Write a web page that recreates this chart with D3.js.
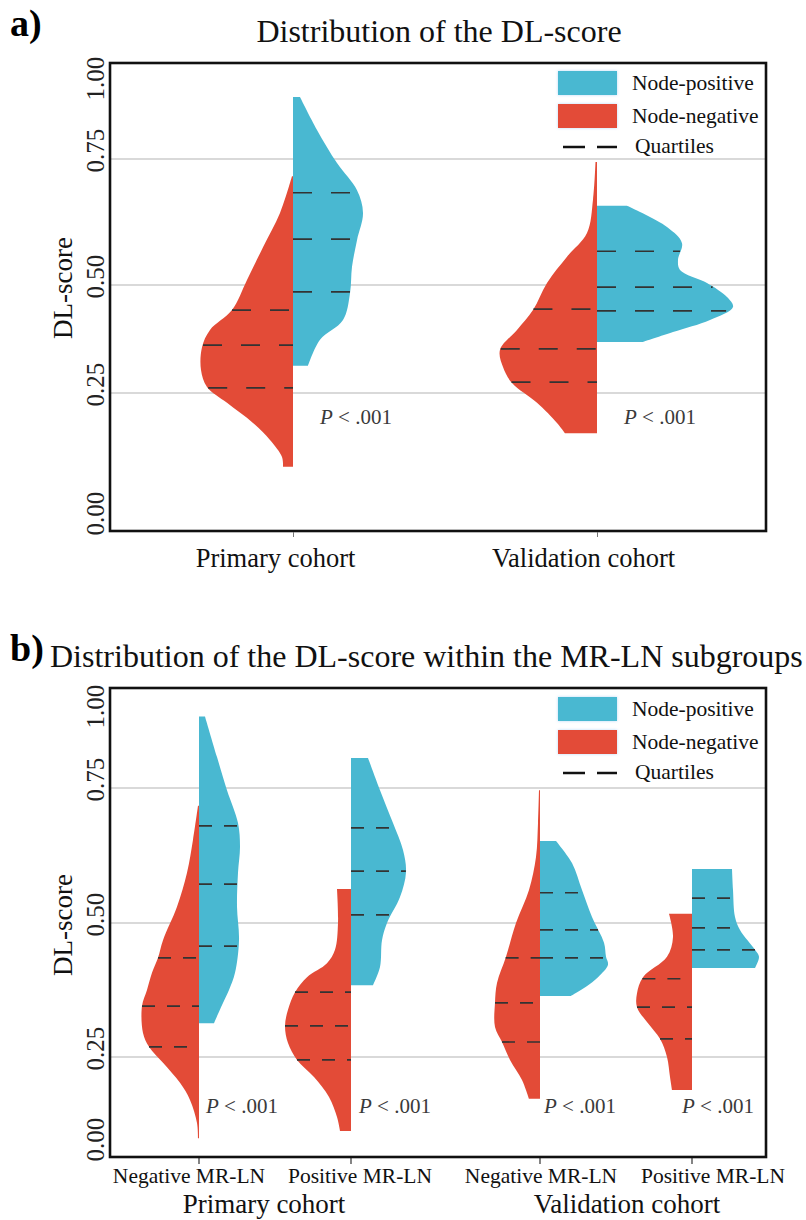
<!DOCTYPE html>
<html>
<head>
<meta charset="utf-8">
<script src="https://cdn.jsdelivr.net/npm/d3@7"></script>
<style>
  html, body { margin: 0; padding: 0; background: #fff; }
  svg { display: block; }
</style>
</head>
<body>
<svg id="chart" width="806" height="1220"></svg>
<script>
// ---- data (value, half-width density) ----
const cohorts = ["Primary cohort", "Validation cohort"];
const subgroups = ["Negative MR-LN", "Positive MR-LN"];
const yTicks = [0, 0.25, 0.5, 0.75, 1];
const gridValues = [0.25, 0.5, 0.75];
const legendKeys = ["Node-positive", "Node-negative", "Quartiles"];
const pLabel = "P < .001";

// panel a
const primaryNegA = [[0.716,0.01],[0.643,0.13],[0.575,0.30],[0.510,0.46],[0.442,0.61],[0.396,0.83],[0.356,0.91],[0.303,0.92],[0.264,0.86],[0.231,0.66],[0.192,0.40],[0.159,0.23],[0.126,0.11],[0.107,0.10]];
const primaryPosA = [[0.965,0.07],[0.851,0.24],[0.742,0.44],[0.688,0.64],[0.643,0.70],[0.589,0.64],[0.536,0.59],[0.481,0.57],[0.419,0.50],[0.373,0.27],[0.313,0.15]];
const validNegA = [[0.744,0.015],[0.669,0.04],[0.603,0.10],[0.556,0.30],[0.504,0.50],[0.442,0.64],[0.396,0.80],[0.350,0.97],[0.310,0.94],[0.273,0.85],[0.231,0.60],[0.192,0.40],[0.172,0.32]];
const validPosA = [[0.657,0.30],[0.615,0.70],[0.583,0.85],[0.550,0.81],[0.530,0.83],[0.504,1.10],[0.472,1.30],[0.449,1.36],[0.419,1.13],[0.391,0.76],[0.368,0.46]];
const quartPrimaryNegA = [0.262, 0.361, 0.442];
const quartPrimaryPosA = [0.484, 0.591, 0.683];
const quartValidNegA = [0.275, 0.352, 0.444];
const quartValidPosA = [0.440, 0.495, 0.567];

// panel b
const primLnNegNeg = [[0.717,0.01],[0.654,0.06],[0.593,0.12],[0.530,0.22],[0.468,0.36],[0.435,0.41],[0.407,0.47],[0.375,0.52],[0.345,0.57],[0.295,0.56],[0.269,0.50],[0.234,0.36],[0.179,0.19],[0.132,0.09],[0.069,0.02],[0.027,0.01]];
const primLnNegPos = [[0.995,0.06],[0.856,0.18],[0.746,0.28],[0.685,0.39],[0.641,0.41],[0.593,0.39],[0.530,0.38],[0.468,0.40],[0.407,0.36],[0.375,0.30],[0.343,0.22],[0.313,0.15]];
const primLnPosNeg = [[0.563,0.14],[0.500,0.13],[0.450,0.16],[0.425,0.24],[0.399,0.44],[0.371,0.56],[0.338,0.63],[0.308,0.66],[0.276,0.63],[0.242,0.54],[0.195,0.37],[0.140,0.22],[0.085,0.14],[0.047,0.11]];
const primLnPosPos = [[0.853,0.17],[0.746,0.29],[0.685,0.42],[0.635,0.52],[0.594,0.55],[0.548,0.49],[0.500,0.36],[0.468,0.31],[0.418,0.29],[0.384,0.22]];
const validLnNegNeg = [[0.746,0.01],[0.685,0.02],[0.622,0.04],[0.561,0.11],[0.500,0.24],[0.437,0.34],[0.388,0.43],[0.351,0.45],[0.306,0.45],[0.278,0.38],[0.242,0.30],[0.187,0.18],[0.135,0.11]];
const validLnNegPos = [[0.652,0.16],[0.611,0.32],[0.561,0.42],[0.511,0.52],[0.463,0.64],[0.437,0.66],[0.422,0.68],[0.399,0.58],[0.381,0.46],[0.364,0.31]];
const validLnPosNeg = [[0.517,0.23],[0.474,0.19],[0.437,0.25],[0.399,0.49],[0.369,0.55],[0.343,0.55],[0.313,0.44],[0.284,0.32],[0.250,0.25],[0.195,0.22],[0.159,0.20]];
const validLnPosPos = [[0.600,0.40],[0.561,0.41],[0.511,0.43],[0.487,0.48],[0.450,0.63],[0.437,0.67],[0.416,0.63]];
const quartB = {
  primLnNegNeg: [0.269, 0.345, 0.435], primLnNegPos: [0.457, 0.572, 0.680],
  primLnPosNeg: [0.242, 0.308, 0.371], primLnPosPos: [0.515, 0.596, 0.676],
  validLnNegNeg: [0.278, 0.351, 0.435], validLnNegPos: [0.435, 0.487, 0.556],
  validLnPosNeg: [0.284, 0.343, 0.396], validLnPosPos: [0.450, 0.491, 0.546]
};

// ---- styling ----
const FONT = '"Liberation Serif", "Times New Roman", serif';
const BLUE = "#49b8d1";
const RED = "#e34b37";
const GRID = "#d9d9d9";

const svg = d3.select("#chart");
const wScale = d3.scaleLinear().domain([0, 1]).range([0, 100]);

const defs = svg.append("defs");
const glow = defs.append("filter").attr("id", "glow").attr("x", "-20%").attr("y", "-30%").attr("width", "140%").attr("height", "160%");
glow.append("feDropShadow").attr("dx", 0).attr("dy", 0).attr("stdDeviation", 1.6)
  .attr("flood-color", "#9cc7f2").attr("flood-opacity", 0.7);

function drawHalf(g, pts, cx, side, y, color) {
  const sorted = pts.slice().sort((a, b) => b[0] - a[0]);
  const area = d3.area()
    .curve(d3.curveCatmullRom.alpha(0.5))
    .y(d => y(d[0]))
    .x0(d => side < 0 ? cx - wScale(d[1]) : cx)
    .x1(d => side < 0 ? cx : cx + wScale(d[1]));
  g.append("path").attr("d", area(sorted)).attr("fill", color);
}

function drawQuartiles(g, pts, quarts, cx, side, y, dash) {
  const asc = pts.slice().sort((a, b) => a[0] - b[0]);
  const widthAt = d3.scaleLinear().domain(asc.map(d => d[0])).range(asc.map(d => d[1])).clamp(true);
  g.selectAll(null)
    .data(quarts)
    .join("line")
    .attr("x1", q => side < 0 ? cx - wScale(widthAt(q)) : cx)
    .attr("x2", q => side < 0 ? cx : cx + wScale(widthAt(q)))
    .attr("y1", q => y(q))
    .attr("y2", q => y(q))
    .attr("stroke", "#333")
    .attr("stroke-width", 1.7)
    .attr("stroke-dasharray", dash);
}

function drawFrame(g, box, y, labelY) {
  g.selectAll(null)
    .data(gridValues)
    .join("line")
    .attr("x1", box.left).attr("x2", box.right)
    .attr("y1", d => y(d)).attr("y2", d => y(d))
    .attr("stroke", GRID).attr("stroke-width", 2.2);

  const axis = d3.axisLeft(y).tickValues(yTicks).tickSize(0).tickFormat(d3.format(".2f"));
  const ag = g.append("g").attr("transform", `translate(${box.left},0)`).call(axis);
  ag.select(".domain").remove();
  ag.attr("font-family", FONT).attr("font-size", 25);
  ag.selectAll("text")
    .attr("x", 0).attr("y", 0).attr("dy", 0)
    .attr("fill", "#222")
    .attr("text-anchor", "middle")
    .attr("transform", "translate(-6,-9) rotate(-90)");

  g.append("text")
    .attr("transform", `translate(72,${labelY}) rotate(-90)`)
    .attr("text-anchor", "middle")
    .attr("font-family", FONT).attr("font-size", 27)
    .attr("fill", "#111")
    .text("DL-score");
}

function drawBox(g, box) {
  g.append("rect")
    .attr("x", box.left).attr("y", box.top)
    .attr("width", box.right - box.left).attr("height", box.bottom - box.top)
    .attr("fill", "none").attr("stroke", "#111").attr("stroke-width", 2.6);
}

function drawLegend(g, x, y0) {
  const rowY = [y0, y0 + 33, y0 + 62];
  g.append("rect").attr("x", x).attr("y", rowY[0]).attr("width", 59).attr("height", 24)
    .attr("fill", BLUE).attr("filter", "url(#glow)");
  g.append("rect").attr("x", x).attr("y", rowY[1]).attr("width", 59).attr("height", 24)
    .attr("fill", RED).attr("filter", "url(#glow)");
  g.append("line").attr("x1", x + 5).attr("x2", x + 59)
    .attr("y1", rowY[2] + 14).attr("y2", rowY[2] + 14)
    .attr("stroke", "#111").attr("stroke-width", 2.6).attr("stroke-dasharray", "22,12");
  g.selectAll(null)
    .data(legendKeys)
    .join("text")
    .attr("x", (d, i) => x + (i === 2 ? 77 : 74))
    .attr("y", (d, i) => rowY[i] + (i === 2 ? 20 : 19))
    .attr("font-family", FONT).attr("font-size", 21.5)
    .attr("fill", "#111")
    .text(d => d);
}

function drawP(g, x, y) {
  const t = g.append("text").attr("x", x).attr("y", y)
    .attr("font-family", FONT).attr("font-size", 21).attr("fill", "#3a3a3a");
  t.append("tspan").attr("font-style", "italic").text(pLabel.slice(0, 1));
  t.append("tspan").text(pLabel.slice(1));
}

// ================= panel a =================
const boxA = { left: 110, right: 766, top: 63, bottom: 531 };
const yA = d3.scaleLinear().domain(yTicks).range([522, 393, 285, 159, 87]);
const xA = d3.scalePoint().domain(cohorts).range([293, 597]);
const gA = svg.append("g");

gA.append("text").attr("x", 10).attr("y", 36)
  .attr("font-family", FONT).attr("font-size", 38).attr("font-weight", "bold").text("a)");
gA.append("text").attr("x", 439).attr("y", 42).attr("text-anchor", "middle")
  .attr("font-family", FONT).attr("font-size", 32).attr("fill", "#111")
  .text("Distribution of the DL-score");

drawFrame(gA, boxA, yA, 288);

const violinsA = [
  { cohort: cohorts[0], neg: primaryNegA, pos: primaryPosA, qNeg: quartPrimaryNegA, qPos: quartPrimaryPosA },
  { cohort: cohorts[1], neg: validNegA, pos: validPosA, qNeg: quartValidNegA, qPos: quartValidPosA }
];
violinsA.forEach(v => {
  const cx = xA(v.cohort);
  drawHalf(gA, v.neg, cx, -1, yA, RED);
  drawHalf(gA, v.pos, cx, 1, yA, BLUE);
  drawQuartiles(gA, v.neg, v.qNeg, cx, -1, yA, "19,19");
  drawQuartiles(gA, v.pos, v.qPos, cx, 1, yA, "19,19");
  drawP(gA, cx + 27, 424);
});

drawBox(gA, boxA);

const xAxisA = gA.append("g").attr("transform", `translate(0,${boxA.bottom + 1})`)
  .call(d3.axisBottom(xA).tickSize(5).tickSizeOuter(0));
xAxisA.select(".domain").remove();
xAxisA.selectAll(".tick line").attr("stroke", "#777");
xAxisA.attr("font-family", FONT).attr("font-size", 26.5);
xAxisA.selectAll(".tick text")
  .attr("fill", "#111")
  .attr("y", 35).attr("dy", 0)
  .attr("dx", (d, i) => i === 0 ? -18 : -14);

drawLegend(gA, 558, 71);

// ================= panel b =================
const boxB = { left: 110, right: 766, top: 688, bottom: 1157 };
const yB = d3.scaleLinear().domain(yTicks).range([1148, 1057, 923, 788, 715]);
const xOuter = d3.scalePoint().domain(cohorts).range([275, 616]);
const xInner = d3.scalePoint().domain(subgroups).range([-76, 76]);
const gB = svg.append("g");

gB.append("text").attr("x", 10).attr("y", 661)
  .attr("font-family", FONT).attr("font-size", 38).attr("font-weight", "bold").text("b)");
gB.append("text").attr("x", 50).attr("y", 667)
  .attr("font-family", FONT).attr("font-size", 32).attr("fill", "#111")
  .text("Distribution of the DL-score within the MR-LN subgroups");

drawFrame(gB, boxB, yB, 925);

const violinsB = [
  { cohort: cohorts[0], sub: subgroups[0], neg: primLnNegNeg, pos: primLnNegPos, qNeg: quartB.primLnNegNeg, qPos: quartB.primLnNegPos },
  { cohort: cohorts[0], sub: subgroups[1], neg: primLnPosNeg, pos: primLnPosPos, qNeg: quartB.primLnPosNeg, qPos: quartB.primLnPosPos },
  { cohort: cohorts[1], sub: subgroups[0], neg: validLnNegNeg, pos: validLnNegPos, qNeg: quartB.validLnNegNeg, qPos: quartB.validLnNegPos },
  { cohort: cohorts[1], sub: subgroups[1], neg: validLnPosNeg, pos: validLnPosPos, qNeg: quartB.validLnPosNeg, qPos: quartB.validLnPosPos }
];
const pShiftB = [7, 8, 4, -10];
const subLabelShift = [-10, 9, 1, 21];

violinsB.forEach((v, i) => {
  const cx = xOuter(v.cohort) + xInner(v.sub);
  drawHalf(gB, v.neg, cx, -1, yB, RED);
  drawHalf(gB, v.pos, cx, 1, yB, BLUE);
  drawQuartiles(gB, v.neg, v.qNeg, cx, -1, yB, "13,12");
  drawQuartiles(gB, v.pos, v.qPos, cx, 1, yB, "13,12");
  drawP(gB, cx + pShiftB[i], 1113);

  gB.append("line")
    .attr("x1", cx).attr("x2", cx)
    .attr("y1", boxB.bottom + 1).attr("y2", boxB.bottom + 7)
    .attr("stroke", "#333").attr("stroke-width", 1.2);
  gB.append("text")
    .attr("x", cx + subLabelShift[i]).attr("y", 1183)
    .attr("text-anchor", "middle")
    .attr("font-family", FONT).attr("font-size", 21.5).attr("fill", "#111")
    .text(v.sub);
});

drawBox(gB, boxB);

gB.selectAll(null)
  .data(cohorts)
  .join("text")
  .attr("x", (d, i) => xOuter(d) + (i === 0 ? -11 : 11))
  .attr("y", 1213)
  .attr("text-anchor", "middle")
  .attr("font-family", FONT).attr("font-size", 27).attr("fill", "#111")
  .text(d => d);

drawLegend(gB, 558, 697);
</script>
</body>
</html>
